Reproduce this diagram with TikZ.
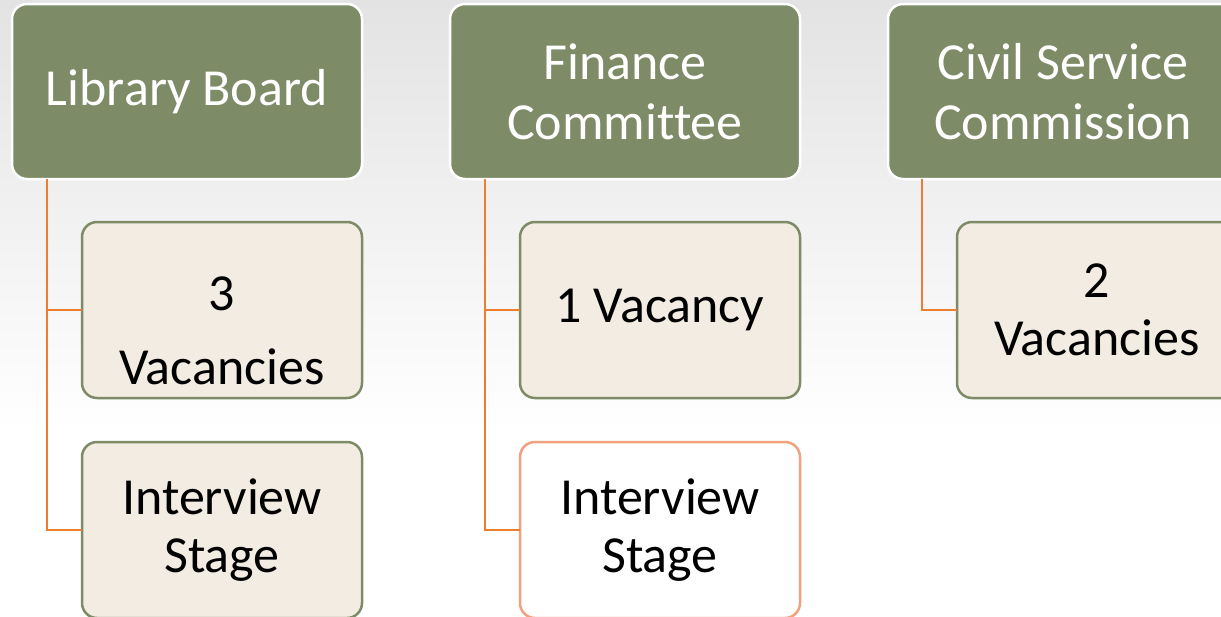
\documentclass[tikz,border=0pt]{standalone}
\usepackage{fontspec}
\setmainfont{Carlito}[Ligatures=NoCommon]
\definecolor{hdrgreen}{RGB}{125,139,102}
\definecolor{childfill}{RGB}{242,236,226}
\definecolor{linkorange}{RGB}{237,125,49}
\definecolor{lightorange}{RGB}{240,162,126}
\begin{document}
\begin{tikzpicture}[x=1pt,y=-1pt,
  hdr/.style={draw=white, line width=2.5pt, fill=hdrgreen, rounded corners=15pt,
    minimum width=350pt, minimum height=175pt, inner sep=0pt, outer sep=0pt,
    align=center, text=white, font=\fontsize{52}{60}\selectfont},
  child/.style={draw=hdrgreen, line width=2.5pt, fill=childfill, rounded corners=15pt,
    minimum width=280pt, minimum height=176pt, inner sep=0pt, outer sep=0pt,
    align=center, text=black, font=\fontsize{52}{58}\selectfont},
  childw/.style={child, draw=lightorange, fill=white},
  label/.style={inner sep=0pt, align=center, text=black, font=\fontsize{52}{58}\selectfont},
  link/.style={draw=linkorange, line width=2.2pt}]
\useasboundingbox (0,0) rectangle (1221,616);
\clip (0,0) rectangle (1221,616);
\shade[top color=black!11, bottom color=white] (0,0) rectangle (1221,430);
\fill[white] (0,430) rectangle (1221,616);
% headers
\node[hdr] (lb) at (187,91.5) {Library Board};
\node[hdr] (fc) at (625,91.5) {Finance\\Committee};
\node[hdr] (cs) at (1063,91.5) {Civil Service\\Commission};
% children
\node[child] (lb1) at (222,310) {};
\node[label] (lb1t) at (222,330.5) {3\\[16pt]Vacancies};
\node[child] (lb2) at (222,530) {Interview\\Stage};
\node[child] (fc1) at (660,310) {1 Vacancy};
\node[childw] (fc2) at (660,530) {Interview\\Stage};
\node[child] (cs1) at (1097,310) {2\\Vacancies};
% connectors
\coordinate (lbt) at ([xshift=-140pt]lb.south);
\coordinate (fct) at ([xshift=-140pt]fc.south);
\coordinate (cst) at ([xshift=-141pt]cs.south);
\draw[link] (lbt) |- (lb1.west);
\draw[link] (lbt) |- (lb2.west);
\draw[link] (fct) |- (fc1.west);
\draw[link] (fct) |- (fc2.west);
\draw[link] (cst) |- (cs1.west);
\end{tikzpicture}
\end{document}
